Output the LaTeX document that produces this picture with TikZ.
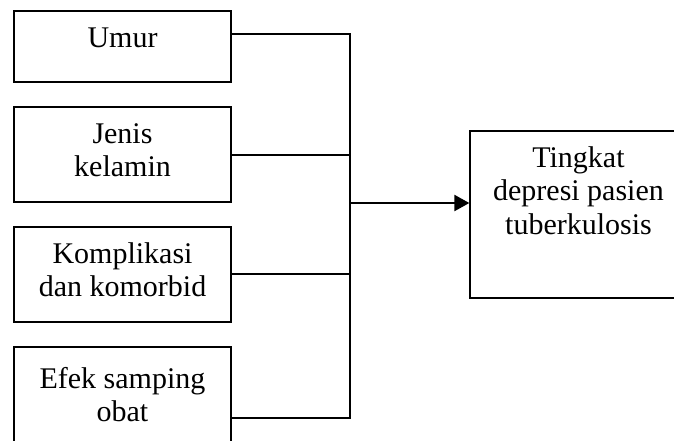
\documentclass[tikz,border=0pt]{standalone}
\usepackage{fontspec}
\setmainfont{Liberation Serif}
\usetikzlibrary{arrows.meta}
\begin{document}
\begin{tikzpicture}[x=1pt,y=-1pt,
  box/.style={draw, line width=1.3pt, minimum width=217pt, inner sep=0pt, rectangle},
  lbl/.style={font=\fontsize{30}{33.5}\selectfont, align=center, anchor=base, inner sep=0pt},
  conn/.style={line width=2.3pt}]
\useasboundingbox (0,0) rectangle (674,440);
\clip (0,0) rectangle (674,440);
\node[box, minimum height=71pt] (b1) at (122.5,46.5) {};
\node[box, minimum height=95pt] (b2) at (122.5,154.5) {};
\node[box, minimum height=95pt] (b3) at (122.5,274.5) {};
\node[box, minimum height=95pt] (b4) at (122.5,394.5) {};
\node[box, minimum height=167pt] (r) at (578.5,214.5) {};
\node[lbl] (t1) at (122.5,47) {Umur};
\node[lbl] (t2) at (122.5,176.5) {Jenis\\kelamin};
\node[lbl] (t3) at (122.5,296.5) {Komplikasi\\dan komorbid};
\node[lbl] (t4) at (122.5,421.5) {Efek samping\\obat};
\node[lbl] (t5) at (578.5,234) {Tingkat\\depresi pasien\\tuberkulosis};
\coordinate (c1) at (350,34);
\coordinate (c2) at (350,155);
\coordinate (c3) at (350,274);
\coordinate (c4) at (350,418);
\coordinate (j) at (350,203);
\draw[conn] (b1.east |- c1) -- (c1);
\draw[conn] (b2.east |- c2) -- (c2);
\draw[conn] (b3.east |- c3) -- (c3);
\draw[conn] (b4.east |- c4) -- (c4);
\draw[conn, line cap=rect] (c1) -- (c4);
\draw[conn, -{Triangle[length=15pt,width=16pt]}] (j) -- (r.west |- j);
\end{tikzpicture}
\end{document}
